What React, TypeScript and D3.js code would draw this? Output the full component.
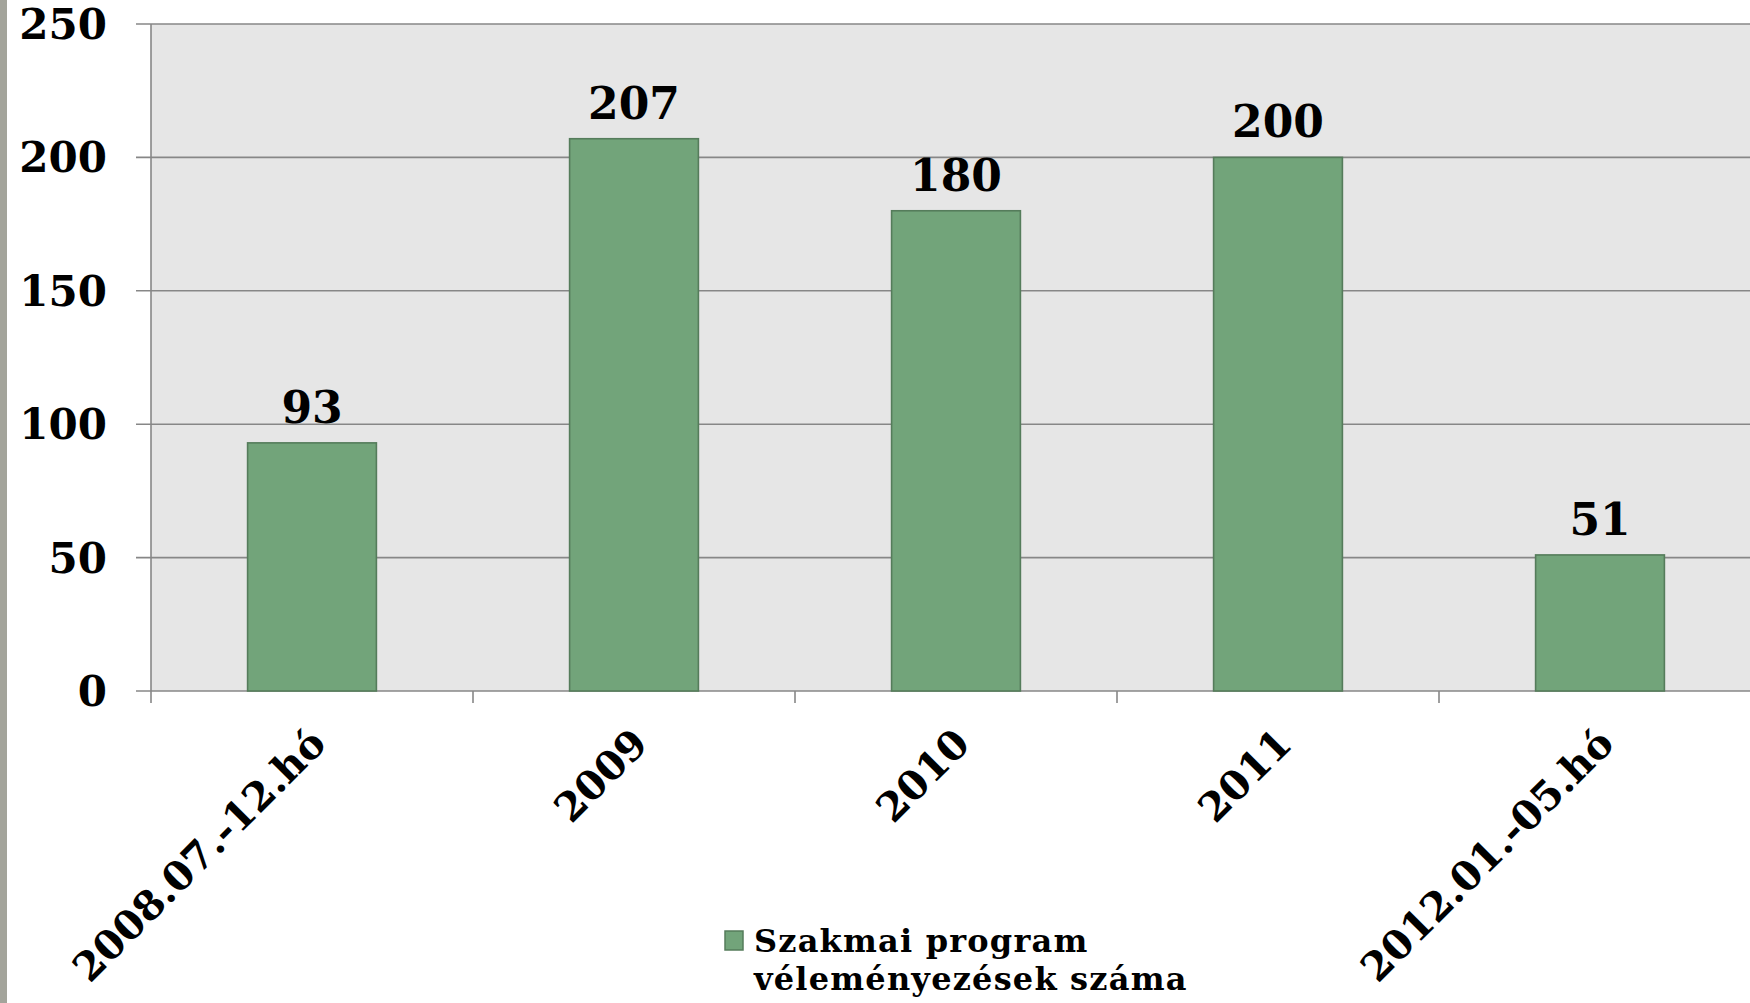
import React from "react";
import * as d3 from "d3";

const categories = ["2008.07.-12.hó", "2009", "2010", "2011", "2012.01.-05.hó"];
const values = [93, 207, 180, 200, 51];
const yTicks = [0, 50, 100, 150, 200, 250];
const legendLines = ["Szakmai program", "véleményezések száma"];

const W = 1750;
const H = 1003;
const FONT = "'DejaVu Serif', Georgia, serif";

export default function App() {
  const left = 151;
  const right = 1761;
  const top = 24;
  const bottom = 691;

  const x = d3.scaleBand<string>().domain(categories).range([left, right]).paddingInner(0.6).paddingOuter(0.3);
  const xb = d3.scaleBand<string>().domain(categories).range([left, right]);
  const y = d3.scaleLinear().domain([0, 250]).range([bottom, top]);

  const grid = "#878787";
  const fill = "#72a47a";
  const stroke = "#557c5b";

  return (
    <svg width={W} height={H} style={{ position: "absolute", left: 0, top: 0, background: "#fff" }} fontFamily={FONT}>
      <rect x={0} y={0} width={7} height={H} fill="#a3a49b" />
      <rect x={left} y={top} width={right - left} height={bottom - top} fill="#e6e6e6" />
      {yTicks.map((t) => (
        <line key={"g" + t} x1={left - 15} x2={right} y1={y(t)} y2={y(t)} stroke={grid} strokeWidth={1.6} />
      ))}
      <line x1={left} x2={left} y1={top} y2={bottom + 12} stroke={grid} strokeWidth={1.6} />
      {categories.map((c, i) =>
        i === 0 ? null : (
          <line key={"t" + c} x1={xb(c)!} x2={xb(c)!} y1={bottom} y2={bottom + 12} stroke={grid} strokeWidth={1.6} />
        )
      )}
      {categories.map((c, i) => (
        <rect
          key={"b" + c}
          x={x(c)!}
          y={y(values[i])}
          width={x.bandwidth()}
          height={bottom - y(values[i])}
          fill={fill}
          stroke={stroke}
          strokeWidth={1.6}
        />
      ))}
      {categories.map((c, i) => (
        <text
          key={"v" + c}
          x={x(c)! + x.bandwidth() / 2}
          y={y(values[i]) - 20}
          textAnchor="middle"
          fontSize={44}
          fontWeight="bold"
          fill="#000"
        >
          {values[i]}
        </text>
      ))}
      {yTicks.map((t) => (
        <text key={"y" + t} x={107} y={y(t) + 15} textAnchor="end" fontSize={42} fontWeight="bold" fill="#000">
          {t}
        </text>
      ))}
      {categories.map((c) => {
        const cx = xb(c)! + xb.bandwidth() / 2 + 16;
        const cy = bottom + 55;
        return (
          <text
            key={"x" + c}
            x={cx}
            y={cy}
            transform={`rotate(-45 ${cx} ${cy})`}
            textAnchor="end"
            fontSize={40}
            fontWeight="bold"
            fill="#000"
          >
            {c}
          </text>
        );
      })}
      <rect x={725} y={931} width={18} height={19} fill={fill} stroke={stroke} strokeWidth={1.5} />
      {legendLines.map((l, i) => (
        <text
          key={"l" + i}
          x={754}
          y={952 + i * 38}
          fontSize={32}
          letterSpacing={1.2}
          fontWeight="bold"
          fill="#000"
        >
          {l}
        </text>
      ))}
    </svg>
  );
}
